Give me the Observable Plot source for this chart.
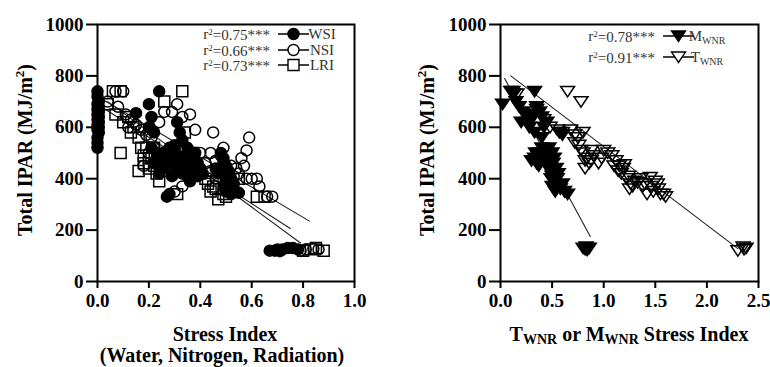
<!DOCTYPE html>
<html><head><meta charset="utf-8">
<script src="https://cdn.jsdelivr.net/npm/d3@7"></script>
<script src="https://cdn.jsdelivr.net/npm/@observablehq/plot@0.6"></script>
<style>
body{margin:0;background:#fff;}
#wrap{display:flex;width:770px;height:367px;overflow:hidden;}
</style></head>
<body><div id="wrap"></div>
<script>
// ---- data ----
const yTicks = [0, 200, 400, 600, 800, 1000];
const leftXTicks = [0, 0.2, 0.4, 0.6, 0.8, 1.0];
const rightXTicks = [0, 0.5, 1.0, 1.5, 2.0, 2.5];

const wsiX = [0,0,0.005,0,0.005,0,0.005,0,0.005,0,0.005,0,0.005,0,0.005,0,0,0,
  0.15,0.2,0.21,0.2,0.22,0.24,0.21,0.23,0.25,0.22,0.26,0.24,0.27,0.28,0.31,0.32,0.33,0.3,0.32,0.34,0.33,0.35,0.36,0.37,0.38,0.39,0.4,0.41,0.36,0.34,
  0.23,0.25,0.27,0.29,0.31,0.33,0.35,0.37,0.39,0.29,0.26,0.28,0.3,0.35,
  0.48,0.49,0.5,0.48,0.5,0.51,0.49,0.5,0.52,0.53,0.55,0.47,0.51,0.49,0.5,0.52,0.46,0.53,
  0.67,0.69,0.7,0.72,0.74,0.76,0.78,0.71];
const wsiY = [740,720,700,690,680,670,660,650,640,630,620,610,600,590,580,560,540,520,
  655,690,640,600,580,740,520,500,480,460,440,420,330,340,620,580,550,500,470,450,430,410,390,480,500,460,440,420,440,490,
  470,450,480,460,440,420,470,430,410,410,500,520,530,520,
  500,470,450,430,410,390,370,350,340,380,345,420,430,480,390,400,440,360,
  120,120,125,125,130,130,125,118];

const nsiX = [0.04,0.07,0.1,0.08,0.11,0.13,0.15,0.17,0.19,0.21,0.22,0.24,0.26,0.29,0.31,0.33,0.36,0.38,0.45,0.59,0.58,0.56,0.57,0.49,0.48,0.46,
  0.3,0.33,0.4,0.42,0.44,0.46,0.5,0.53,0.55,0.6,0.62,0.63,0.66,0.68,0.27,0.24,0.18,0.35,0.38,
  0.12,0.2,0.23,0.44,0.52,0.54,0.58,
  0.79,0.81,0.84,0.86];
const nsiY = [700,740,740,680,650,630,610,590,570,560,520,620,660,660,690,640,650,590,580,560,510,480,450,520,490,470,
  350,370,500,460,430,400,380,410,420,400,400,370,330,330,430,470,450,480,420,
  600,500,480,500,450,440,400,
  120,125,128,125];

const lriX = [0.04,0.06,0.09,0.07,0.09,0.12,0.14,0.16,0.17,0.18,0.18,0.2,0.21,0.23,0.24,0.26,0.27,0.29,0.3,0.33,0.31,0.34,0.37,0.38,0.4,0.43,0.44,0.46,0.47,0.49,0.55,0.62,0.65,0.16,0.26,0.22,
  0.1,0.13,0.19,0.2,0.22,0.25,0.28,0.32,0.35,0.42,0.45,0.5,
  0.8,0.83,0.85,0.88];
const lriY = [690,740,740,650,500,640,600,560,520,490,460,440,480,420,390,700,500,460,510,740,340,580,500,450,420,380,350,360,320,340,400,330,330,430,450,520,
  620,580,520,480,450,430,480,480,450,400,370,330,
  120,125,130,120];

const mX = [0.02,0.1,0.13,0.18,0.22,0.25,0.2,0.28,0.3,0.33,0.33,0.35,0.38,0.4,0.42,0.45,0.4,
  0.33,0.35,0.37,0.38,0.4,0.42,0.45,0.47,0.5,0.52,0.45,0.48,0.5,0.52,0.55,0.5,0.53,0.58,0.6,0.57,0.65,0.6,0.4,
  0.36,0.39,0.43,0.46,0.48,0.51,0.54,0.56,0.52,0.49,0.55,0.62,0.3,0.34,0.26,0.32,0.15,
  0.8,0.83,0.86,0.82,0.84];
const mY = [690,740,730,680,660,640,620,600,630,580,740,680,660,640,600,620,560,
  480,460,450,500,520,480,500,520,500,480,450,430,410,390,400,370,350,360,570,580,340,380,470,
  490,470,510,470,490,460,440,420,420,400,370,350,470,500,620,650,700,
  130,135,130,125,122];

const tX = [0.12,0.16,0.65,0.78,0.28,0.35,0.42,0.48,0.6,0.68,0.72,0.75,0.8,0.76,0.8,0.84,0.86,0.82,0.9,0.95,1.0,1.04,1.08,1.12,1.15,1.2,1.17,1.22,1.26,1.3,1.25,1.36,1.4,1.45,1.5,1.48,1.42,1.55,1.6,1.52,
  0.72,0.78,0.82,0.88,0.98,1.1,1.14,1.19,1.24,1.28,1.33,1.38,1.46,1.53,1.58,0.55,0.88,
  2.3,2.35,2.38,2.36];
const tY = [740,730,740,700,650,670,630,600,580,590,570,560,580,530,500,480,460,440,490,460,510,500,490,470,450,455,420,400,380,390,360,400,380,405,390,350,340,340,330,380,
  540,510,470,470,480,450,430,440,410,370,385,370,370,360,340,590,510,
  120,135,130,125];

// regression line end points
const wsiFitX = [0, 0.75],  wsiFitY = [690, 206];
const nsiFitX = [0, 0.825], nsiFitY = [720, 235];
const lriFitX = [0.04, 0.79], lriFitY = [700, 150];
const mFitX = [0.04, 0.87], mFitY = [790, 175];
const tFitX = [0.1, 2.3],   tFitY = [800, 128];

const leftLegendR2 = ["0.75", "0.66", "0.73"];
const leftLegendNames = ["WSI", "NSI", "LRI"];
const rightLegendR2 = ["0.78", "0.91"];
const rightLegendNames = [["M", "WNR"], ["T", "WNR"]];

// ---- helpers ----
const FONT = "'Liberation Serif','Times New Roman',serif";
const triDown = {
  draw(ctx, size) {
    const r = Math.sqrt(size / Math.PI);
    ctx.moveTo(-r * 1.2, -r * 0.85);
    ctx.lineTo(r * 1.2, -r * 0.85);
    ctx.lineTo(0, r * 0.95);
    ctx.closePath();
  }
};
const rows = (xs, ys, s) => xs.map((x, i) => ({x, y: ys[i], s}));

function makePlot({width, ml, mr, xDomain, xTicks, dots, fits}) {
  return Plot.plot({
    width, height: 367,
    marginLeft: ml, marginRight: mr, marginTop: 24, marginBottom: 86,
    style: {fontFamily: FONT, fontSize: "19px", fontWeight: "bold", color: "black", background: "white"},
    x: {domain: xDomain},
    y: {domain: [0, 1000]},
    marks: [
      Plot.axisX({ticks: xTicks, tickFormat: d3.format(".1f"), tickSize: 7, tickPadding: 5, strokeWidth: 2, label: null}),
      Plot.axisY({ticks: yTicks, tickFormat: d3.format("d"), tickSize: 11, tickPadding: 3, strokeWidth: 2, label: null}),
      ...fits.map(f => Plot.line(rows(f.x, f.y, f.s), {x: "x", y: "y", stroke: "#222", strokeWidth: 1.1})),
      ...dots.map(d => Plot.dot(rows(d.x, d.y, d.s), {x: "x", y: "y", r: d.r, symbol: d.symbol,
        fill: d.filled ? "black" : "none", stroke: "black", strokeWidth: 1.5})),
      Plot.frame({stroke: "black", strokeWidth: 2})
    ]
  });
}

const left = makePlot({
  width: 385, ml: 97, mr: 31, xDomain: [0, 1], xTicks: leftXTicks,
  fits: [{x: wsiFitX, y: wsiFitY, s: "WSI"}, {x: nsiFitX, y: nsiFitY, s: "NSI"}, {x: lriFitX, y: lriFitY, s: "LRI"}],
  dots: [
    {x: wsiX, y: wsiY, s: "WSI", symbol: "circle", r: 5.5, filled: true},
    {x: nsiX, y: nsiY, s: "NSI", symbol: "circle", r: 5.5, filled: false},
    {x: lriX, y: lriY, s: "LRI", symbol: "square", r: 6.2, filled: false}
  ]
});
const right = makePlot({
  width: 385, ml: 115, mr: 12, xDomain: [0, 2.5], xTicks: rightXTicks,
  fits: [{x: mFitX, y: mFitY, s: "M"}, {x: tFitX, y: tFitY, s: "T"}],
  dots: [
    {x: mX, y: mY, s: "M", symbol: triDown, r: 5.8, filled: true},
    {x: tX, y: tY, s: "T", symbol: triDown, r: 5.8, filled: false}
  ]
});
document.getElementById("wrap").append(left, right);

// ---- titles and legends ----
function yTitle(svg, cx) {
  const t = d3.select(svg).append("text")
    .attr("transform", `translate(${cx},150) rotate(-90)`)
    .attr("text-anchor", "middle").attr("dy", "0.35em")
    .style("font", `bold 20px ${FONT}`).attr("fill", "black");
  t.append("tspan").text("Total IPAR (MJ/m");
  t.append("tspan").text("2").attr("font-size", "13px").attr("dy", "-0.6em");
  t.append("tspan").text(")").attr("dy", "0.4em");
}
yTitle(left, 25);
yTitle(right, 42);

const ls = d3.select(left);
ls.append("text").attr("x", 225).attr("y", 341).attr("text-anchor", "middle")
  .style("font", `bold 20px ${FONT}`).text("Stress Index");
ls.append("text").attr("x", 222).attr("y", 362).attr("text-anchor", "middle")
  .style("font", `bold 20px ${FONT}`).text("(Water, Nitrogen, Radiation)");

const rs = d3.select(right);
const xt = rs.append("text").attr("x", 244).attr("y", 341).attr("text-anchor", "middle")
  .style("font", `bold 20px ${FONT}`);
xt.append("tspan").text("T");
xt.append("tspan").text("WNR").attr("font-size", "14px").attr("dy", "3");
xt.append("tspan").text(" or M").attr("dy", "-3");
xt.append("tspan").text("WNR").attr("font-size", "14px").attr("dy", "3");
xt.append("tspan").text(" Stress Index").attr("dy", "-3");

function legend(sel, r2s, names, syms, ys) {
  const g = sel.append("g").style("font", `15px ${FONT}`).attr("fill", "#333");
  r2s.forEach((r2, i) => {
    const y = ys[i];
    const t = g.append("text").attr("x", 270).attr("y", y).attr("dy", "0.35em").attr("text-anchor", "end");
    t.append("tspan").text("r");
    t.append("tspan").text("2").attr("font-size", "9px").attr("dy", "-0.5em");
    t.append("tspan").text("=" + r2 + "***").attr("dy", "0.35em");
    g.append("line").attr("x1", 278).attr("x2", 309).attr("y1", y).attr("y2", y)
      .attr("stroke", "black").attr("stroke-width", 1.5);
    const s = syms[i];
    g.append("path").attr("transform", `translate(293.5,${y})`)
      .attr("d", d3.symbol(s.type, s.r * s.r * Math.PI)())
      .attr("fill", s.filled ? "black" : "white").attr("stroke", "black").attr("stroke-width", 1.4);
    const lt = g.append("text").attr("x", 322).attr("y", y).attr("dy", "0.35em");
    const nm = names[i];
    if (Array.isArray(nm)) {
      lt.append("tspan").text(nm[0]);
      lt.append("tspan").text(nm[1]).attr("font-size", "10px").attr("dy", "3");
    } else lt.text(nm);
  });
}
legend(ls, leftLegendR2, leftLegendNames,
  [{type: d3.symbolCircle, r: 5.5, filled: true}, {type: d3.symbolCircle, r: 5.5, filled: false}, {type: d3.symbolSquare, r: 6.2, filled: false}],
  [34, 50, 65]);
legend(rs, rightLegendR2, rightLegendNames,
  [{type: triDown, r: 5.8, filled: true}, {type: triDown, r: 5.8, filled: false}],
  [36, 57]);
</script>
</body></html>
